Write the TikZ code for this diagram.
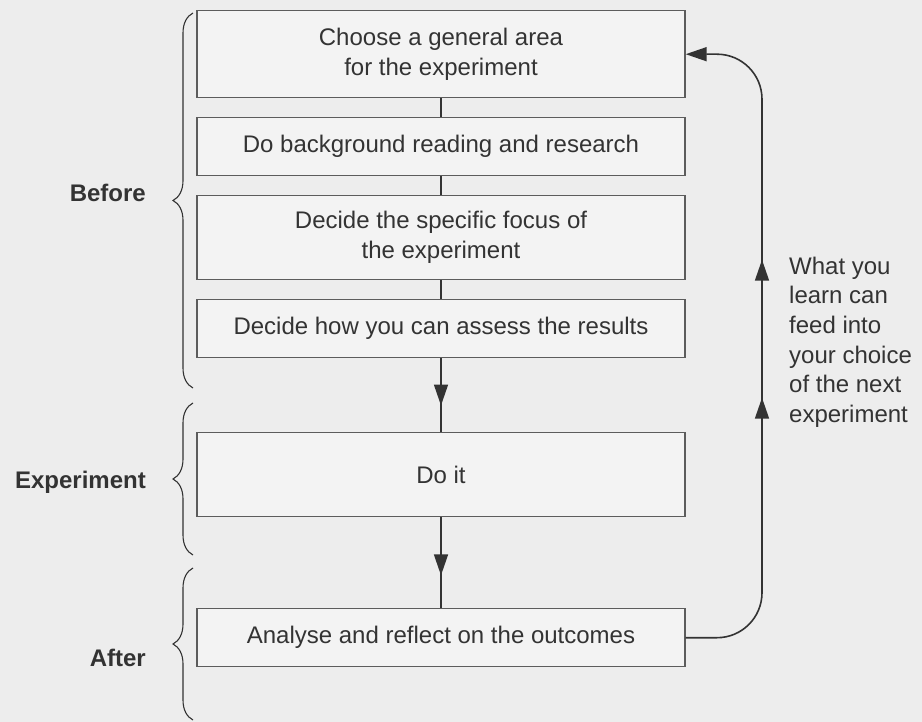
\documentclass[tikz,border=0pt]{standalone}
\usepackage{fontspec}
\setmainfont{Liberation Sans}
\usetikzlibrary{arrows.meta,positioning,decorations.pathreplacing,decorations.markings}
\definecolor{PaperGray}{HTML}{EDEDED}
\definecolor{BoxGray}{HTML}{F3F3F3}
\definecolor{InkGray}{HTML}{333333}
\definecolor{EdgeGray}{HTML}{5C5C5C}

\begin{document}
\begin{tikzpicture}[
  x=1pt, y=-1pt,
  node distance=18.6pt,
  >={Triangle[length=21pt, width=14pt]},
  stage/.style={draw=EdgeGray, line width=1.4pt, fill=BoxGray, minimum width=488pt,
    minimum height=58pt, align=center, font=\fontsize{24}{30}\selectfont, text=InkGray, inner sep=0pt},
  tallstage/.style={stage, minimum height=84pt},
  phase/.style={font=\fontsize{24}{30}\selectfont\bfseries, text=InkGray, anchor=east, inner sep=0pt},
  phasebrace/.style={decorate, decoration={brace, amplitude=20pt}, draw=InkGray, line width=1.1pt},
  link/.style={draw=InkGray, line width=1.6pt},
  flow/.style={link, postaction={decorate, decoration={markings,
    mark=at position 0.64 with {\arrow{>}}}}},
  loopback/.style={link, rounded corners=45pt, ->, postaction={decorate, decoration={markings,
    mark=at position 297pt with {\arrow{>}},
    mark=at position 435pt with {\arrow{>}}}}}
]
\useasboundingbox (0,0) rectangle (922,722);
\fill[PaperGray] (0,0) rectangle (922,722);

% stages of the experiment
\node[tallstage, minimum height=87pt, anchor=north] (area) at (441,10) {Choose a general area\\for the experiment};
\node[stage, below=of area] (reading) {Do background reading and research};
\node[tallstage, below=of reading] (focus) {Decide the specific focus of\\the experiment};
\node[stage, below=of focus] (assess) {Decide how you can assess the results};
\node[tallstage, below=73.6pt of assess] (doit) {Do it};
\node[stage, below=90.6pt of doit] (analyse) {Analyse and reflect on the outcomes};

\draw[link] (area) -- (reading);
\draw[link] (reading) -- (focus);
\draw[link] (focus) -- (assess);
\draw[flow] (assess) -- (doit);
\draw[flow] (doit) -- (analyse);

% feedback loop
\coordinate (turn) at (762,0);
\draw[loopback] (analyse.east) -- (analyse.east -| turn) -- (area.east -| turn) -- (area.east);
\node[align=left, anchor=west, inner sep=0pt, text=InkGray, font=\fontsize{24}{29.6}\selectfont]
  (learn) at (789,342) {What you\\learn can\\feed into\\your choice\\of the next\\experiment};

% phases
\coordinate (beforetop) at (193,13);
\coordinate (beforebot) at (193,388);
\coordinate (exptop) at (193,403);
\coordinate (expbot) at (193,555);
\coordinate (aftertop) at (193,568);
\coordinate (afterbot) at (193,720);
\draw[phasebrace] (beforebot) -- (beforetop);
\draw[phasebrace] (expbot) -- (exptop);
\draw[phasebrace] (afterbot) -- (aftertop);
\node[phase] (before) at (146,193) {Before};
\node[phase] (experiment) at (146,482) {Experiment};
\node[phase] (after) at (146,658) {After};
\end{tikzpicture}
\end{document}
